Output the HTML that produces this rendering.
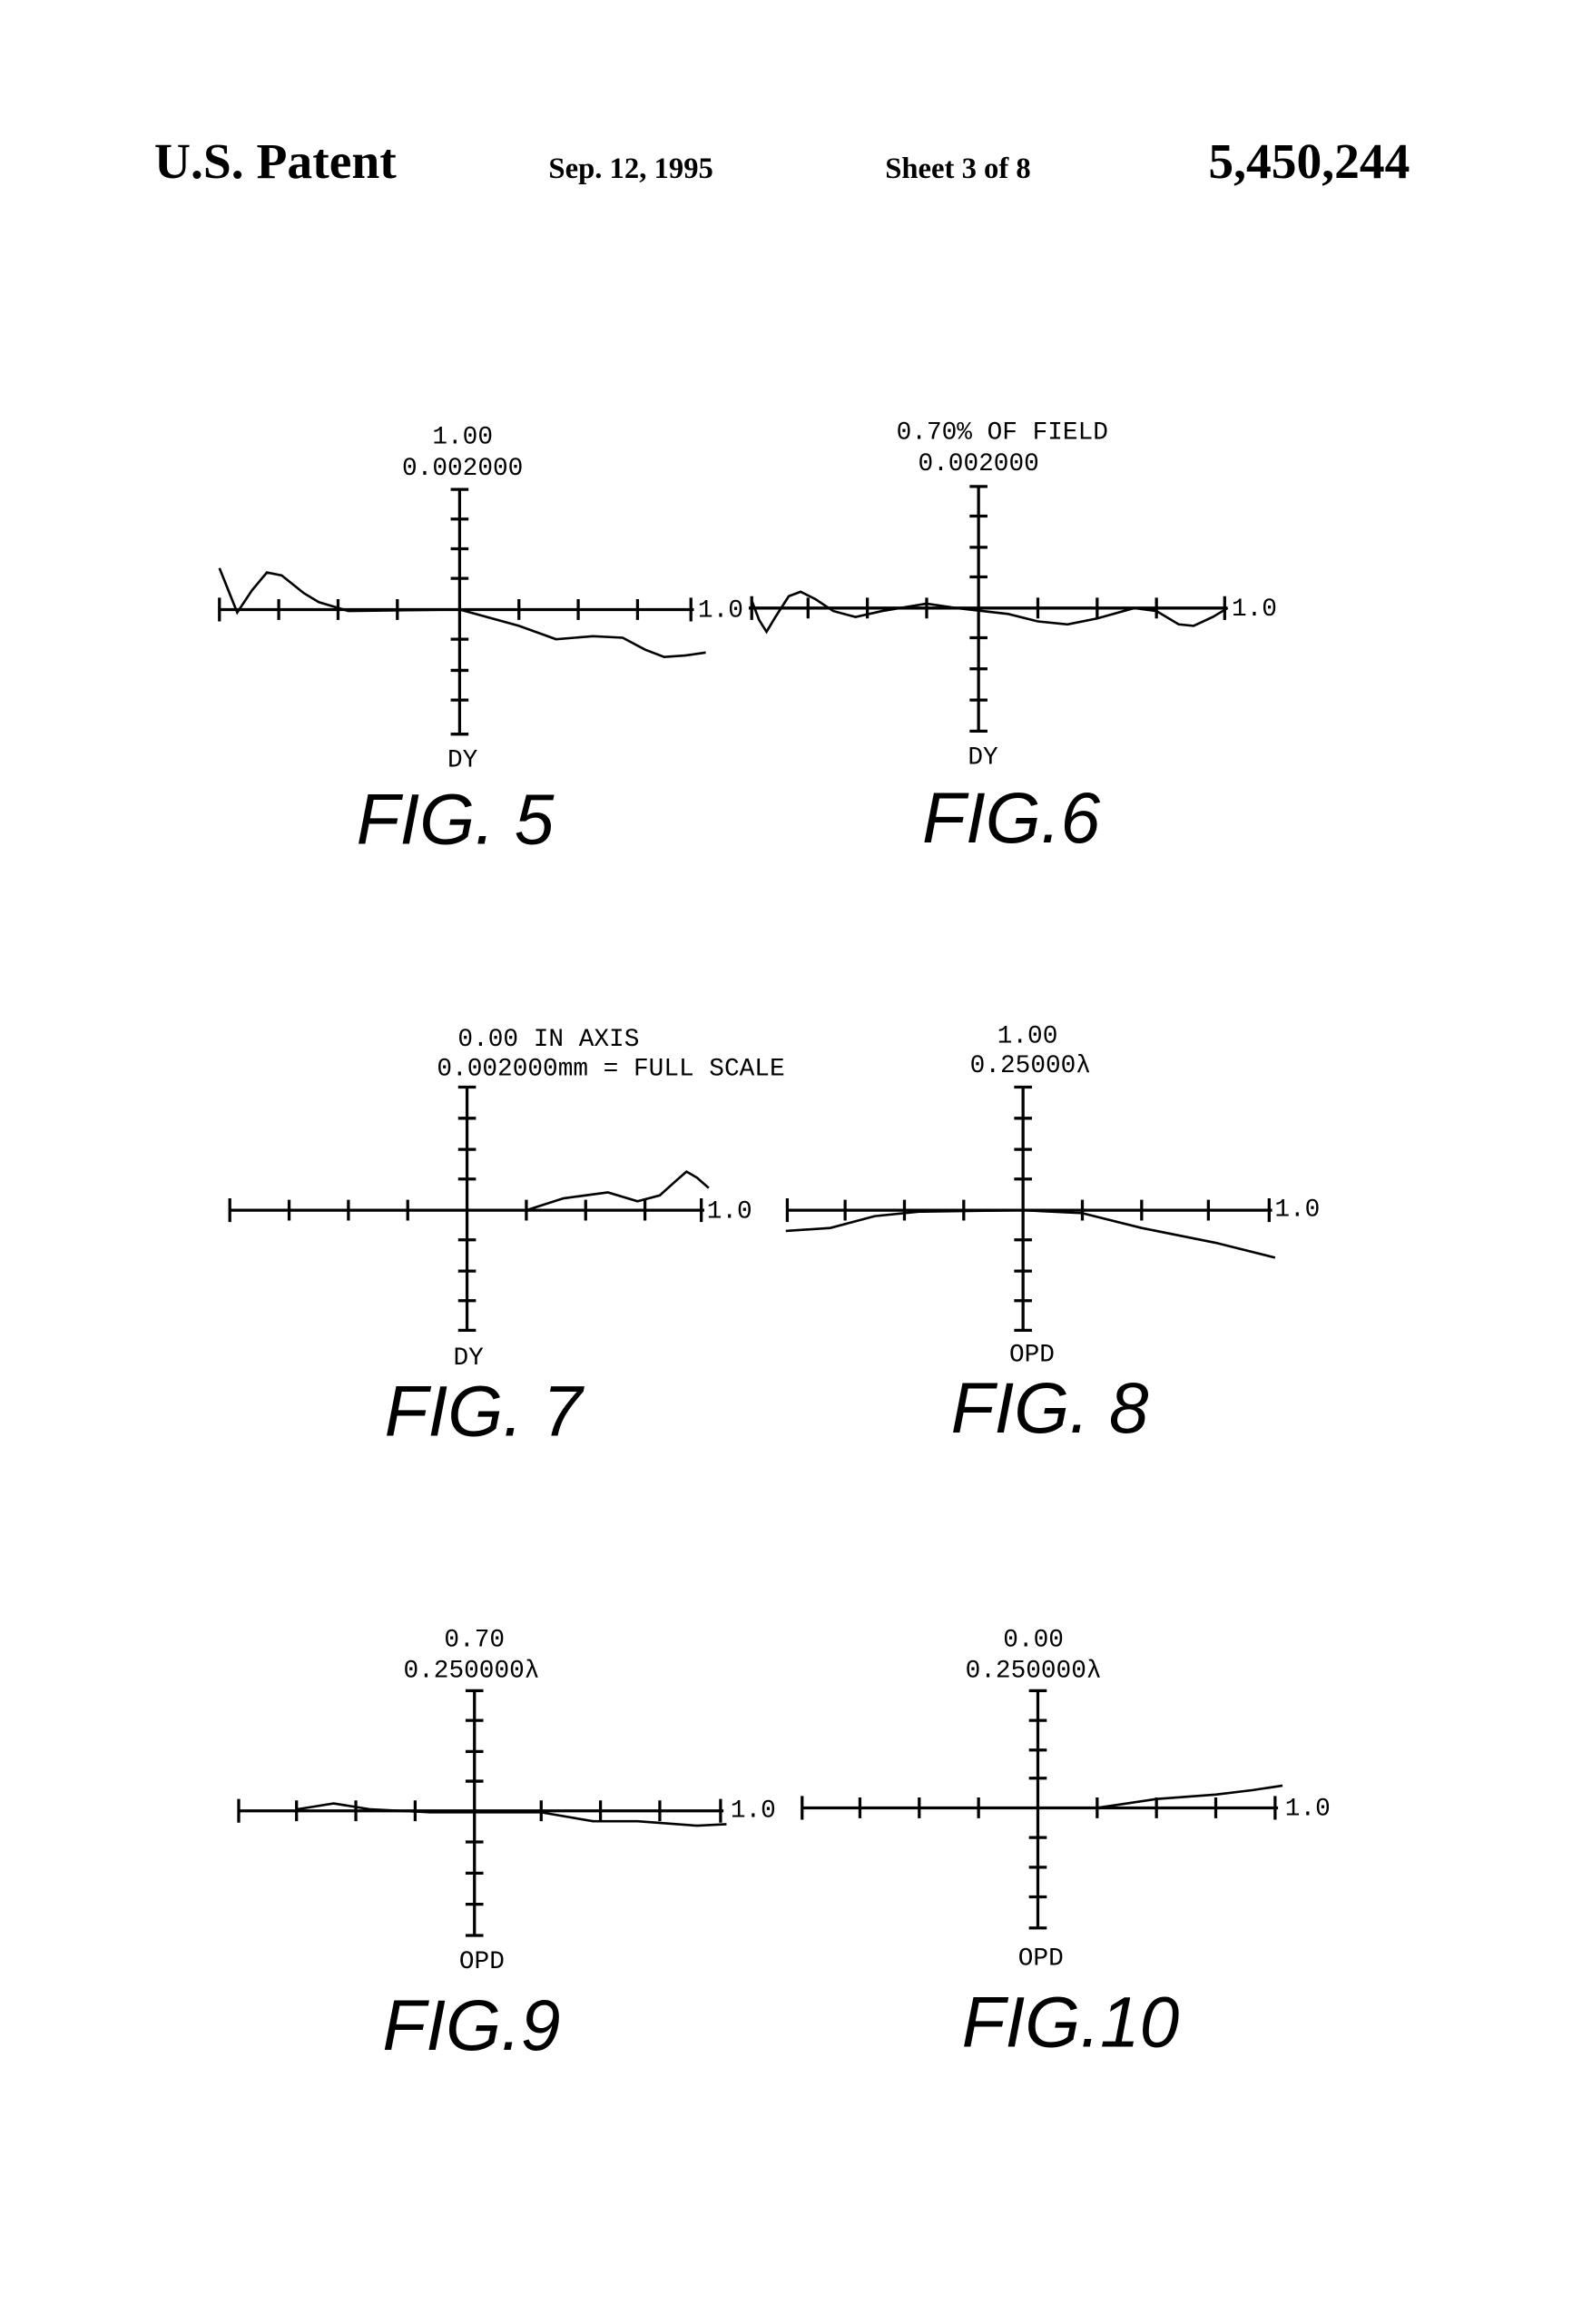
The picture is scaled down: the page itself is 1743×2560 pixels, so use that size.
<!DOCTYPE html>
<html><head><meta charset="utf-8"><style>
html,body{margin:0;padding:0;background:#fff}
svg{display:block}
.h{font-family:"Liberation Serif",serif;font-weight:bold;fill:#000}
.l{font-family:"Liberation Mono","DejaVu Sans Mono",monospace;font-size:17px;fill:#000;text-anchor:middle}
.f{font-family:"Liberation Sans",sans-serif;font-style:italic;font-size:48px;fill:#000;text-anchor:middle}
.ax{stroke:#000;stroke-width:2;fill:none}
.c{stroke:#000;stroke-width:1.6;fill:none}
</style></head><body>
<svg width="1743" height="2560" viewBox="0 0 1067 1567" preserveAspectRatio="none" xmlns="http://www.w3.org/2000/svg">
<text class="h" x="104" y="120" font-size="34">U.S. Patent</text>
<text class="h" x="370" y="120" font-size="20">Sep. 12, 1995</text>
<text class="h" x="597" y="120" font-size="20">Sheet 3 of 8</text>
<text class="h" x="815" y="120" font-size="34">5,450,244</text>

<!-- FIG 5 -->
<g>
<text class="l" x="312" y="299">1.00</text>
<text class="l" x="312" y="320">0.002000</text>
<path class="ax" d="M310 330V495 M148 411H468 M304 330H316 M304 495H316 M304 350H316 M304 370H316 M304 390H316 M304 431H316 M304 452H316 M304 472H316 M148 403V419 M188 404V418 M228 404V418 M268 404V418 M350 404V418 M390 404V418 M430 404V418 M466 403V419"/>
<text class="l" x="486" y="416">1.0</text>
<path class="c" d="M148 383 L160 413 L170 398 L180 386 L190 388 L205 400 L215 406 L235 412 L310 411 L350 422 L375 431 L400 429 L420 430 L435 438 L448 443 L462 442 L476 440"/>
<text class="l" x="312" y="517">DY</text>
<text class="f" x="307" y="569">FIG. 5</text>
</g>

<!-- FIG 6 -->
<g>
<text class="l" x="676" y="296">0.70% OF FIELD</text>
<text class="l" x="660" y="317">0.002000</text>
<path class="ax" d="M660 328V493 M505 410H828 M654 328H666 M654 493H666 M654 348H666 M654 369H666 M654 389H666 M654 430H666 M654 451H666 M654 472H666 M507 402V418 M545 403V417 M585 403V417 M625 403V417 M700 403V417 M740 403V417 M780 403V417 M826 402V418"/>
<text class="l" x="846" y="415">1.0</text>
<path class="c" d="M507 405 L512 418 L517 426 L523 416 L532 402 L540 399 L550 404 L562 412 L577 416 L595 412 L625 407 L645 410 L680 414 L700 419 L720 421 L740 417 L765 410 L780 412 L795 421 L805 422 L818 416 L828 410"/>
<text class="l" x="663" y="515">DY</text>
<text class="f" x="682" y="568">FIG.6</text>
</g>

<!-- FIG 7 -->
<g>
<text class="l" x="370" y="705">0.00 IN AXIS</text>
<text class="l" x="412" y="725">0.002000mm = FULL SCALE</text>
<path class="ax" d="M315 733V897 M155 816H475 M309 733H321 M309 897H321 M309 754H321 M309 775H321 M309 795H321 M309 836H321 M309 857H321 M309 877H321 M155 808V824 M195 809V823 M235 809V823 M275 809V823 M355 809V823 M395 809V823 M435 809V823 M473 808V824"/>
<text class="l" x="492" y="821">1.0</text>
<path class="c" d="M355 816 L380 808 L410 804 L430 810 L445 806 L455 797 L463 790 L470 794 L478 801"/>
<text class="l" x="316" y="920">DY</text>
<text class="f" x="326" y="968">FIG. 7</text>
</g>

<!-- FIG 8 -->
<g>
<text class="l" x="693" y="703">1.00</text>
<text class="l" x="695" y="723">0.25000λ</text>
<path class="ax" d="M690 733V897 M530 816H858 M684 733H696 M684 897H696 M684 754H696 M684 775H696 M684 795H696 M684 836H696 M684 857H696 M684 877H696 M531 808V824 M570 809V823 M610 809V823 M650 809V823 M730 809V823 M770 809V823 M815 809V823 M856 808V824"/>
<text class="l" x="875" y="820">1.0</text>
<path class="c" d="M530 830 L560 828 L590 820 L620 817 L690 816 L730 818 L770 828 L820 838 L860 848"/>
<text class="l" x="696" y="918">OPD</text>
<text class="f" x="708" y="966">FIG. 8</text>
</g>

<!-- FIG 9 -->
<g>
<text class="l" x="320" y="1110">0.70</text>
<text class="l" x="318" y="1131">0.250000λ</text>
<path class="ax" d="M320 1140V1305 M160 1221H488 M314 1140H326 M314 1305H326 M314 1160H326 M314 1181H326 M314 1201H326 M314 1242H326 M314 1263H326 M314 1284H326 M161 1213V1229 M200 1214V1228 M240 1214V1228 M280 1214V1228 M365 1214V1228 M405 1214V1228 M445 1214V1228 M486 1213V1229"/>
<text class="l" x="508" y="1225">1.0</text>
<path class="c" d="M200 1220 L225 1216 L250 1220 L290 1222 L365 1222 L400 1228 L430 1228 L470 1231 L490 1230"/>
<text class="l" x="325" y="1327">OPD</text>
<text class="f" x="318" y="1382">FIG.9</text>
</g>

<!-- FIG 10 -->
<g>
<text class="l" x="697" y="1110">0.00</text>
<text class="l" x="697" y="1131">0.250000λ</text>
<path class="ax" d="M700 1140V1300 M540 1219H862 M694 1140H706 M694 1300H706 M694 1160H706 M694 1180H706 M694 1199H706 M694 1239H706 M694 1259H706 M694 1279H706 M541 1211V1227 M580 1212V1226 M620 1212V1226 M660 1212V1226 M740 1212V1226 M780 1212V1226 M820 1212V1226 M860 1211V1227"/>
<text class="l" x="882" y="1224">1.0</text>
<path class="c" d="M740 1219 L780 1213 L820 1210 L845 1207 L865 1204"/>
<text class="l" x="702" y="1325">OPD</text>
<text class="f" x="722" y="1380">FIG.10</text>
</g>
</svg>
</body></html>
